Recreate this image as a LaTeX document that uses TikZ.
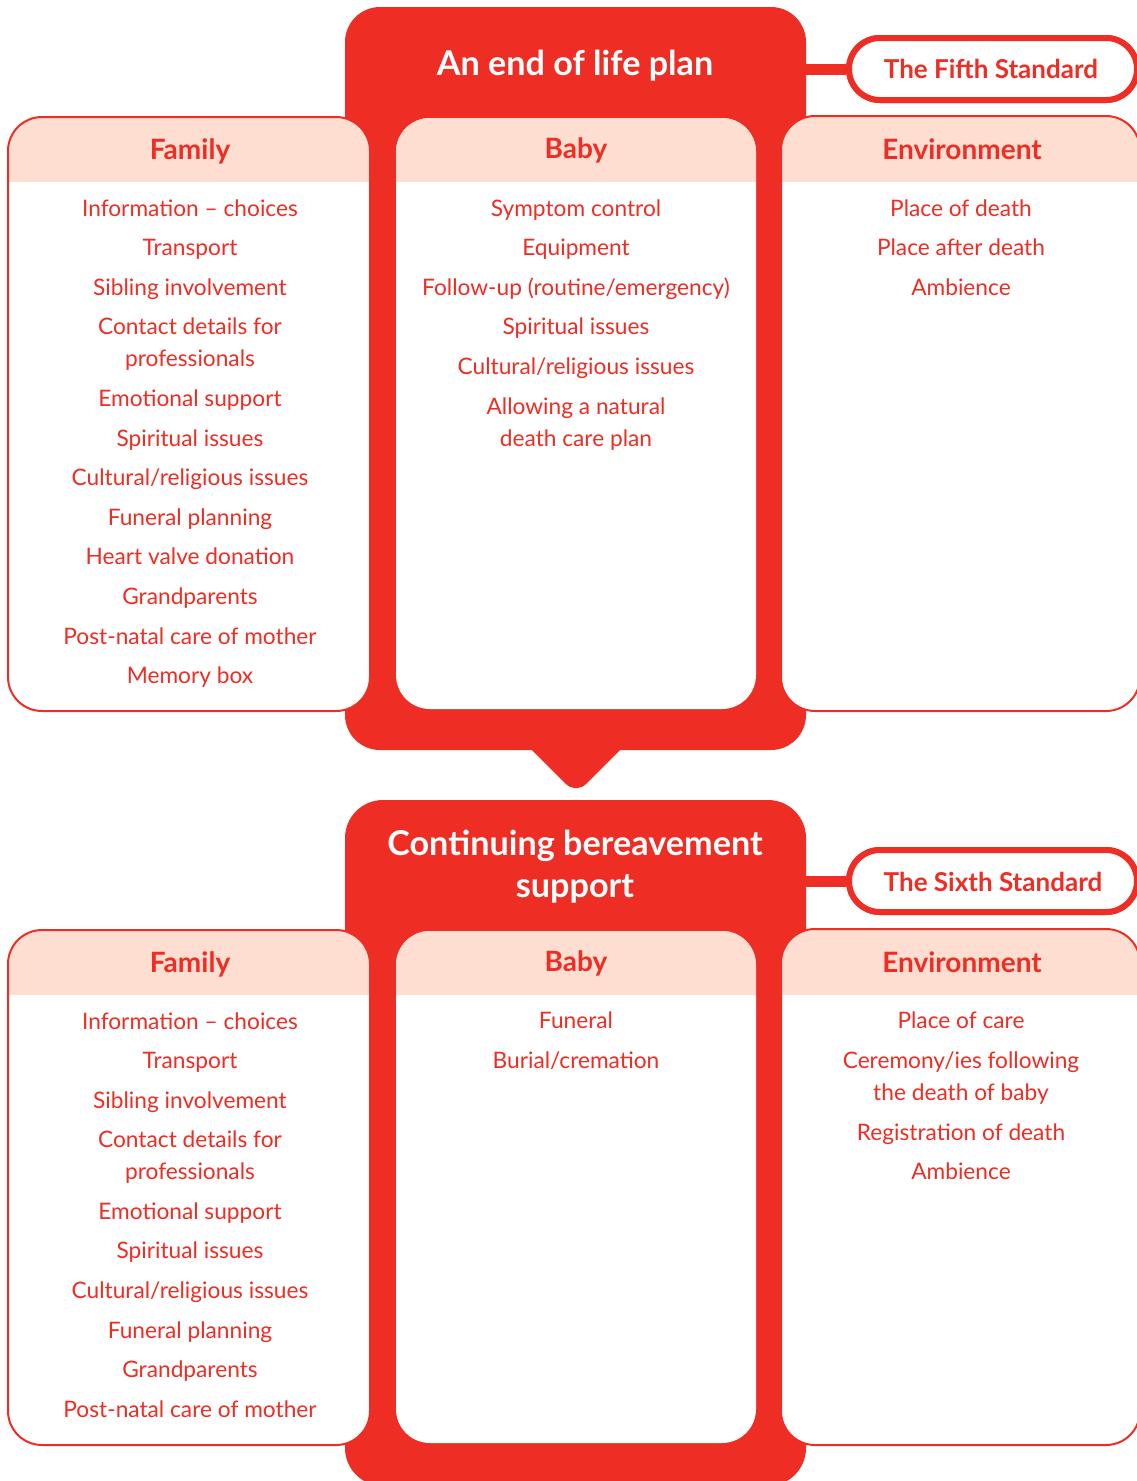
\documentclass[tikz,border=0pt]{standalone}
\usepackage{fontspec}
\setmainfont{Lato}
\usetikzlibrary{shapes.misc}
\definecolor{ered}{RGB}{238,45,36}
\definecolor{peach}{RGB}{253,222,208}
\newcommand{\mycard}[6]{%
 \fill[white, rounded corners=34] (#1,#2) rectangle (#3,#4);
 \begin{scope}
 \clip[rounded corners=34] (#1,#2) rectangle (#3,#4);
 \fill[peach] (#1,#2) rectangle (#3,#5);
 \end{scope}
 \draw[#6, rounded corners=34] (#1,#2) rectangle (#3,#4);
}
\newcommand{\itm}[4]{\node[item] (#1) at (#2,#3) {#4};}
\tikzset{
 item/.style={text=ered, anchor=base, inner sep=0, font=\fontsize{22.7}{26}\selectfont},
 head/.style={text=ered, anchor=base, inner sep=0, font=\bfseries\fontsize{28}{30}\selectfont},
 ttl/.style={text=white, anchor=base, inner sep=0, font=\bfseries\fontsize{34.2}{40}\selectfont},
 pill/.style={draw=ered, line width=6, fill=white, rounded corners=31, minimum width=288, minimum height=62, inner sep=0},
 pilltext/.style={text=ered, anchor=base, inner sep=0, font=\bfseries\fontsize{26}{30}\selectfont},
 cardline/.style={draw=ered, line width=2},
 nocardline/.style={draw=none},
 link/.style={draw=ered, line width=11},
}
\begin{document}
\begin{tikzpicture}[x=1pt, y=-1pt]
\useasboundingbox (0,0) rectangle (1137,1481);
\clip (0,0) rectangle (1137,1481);
% red panels
\fill[ered, rounded corners=35] (345,7) rectangle (806,750);
\fill[ered, rounded corners=38] (345,800) rectangle (806,1486);
\fill[ered] (530,748) [rounded corners=14] -- (576,794) [sharp corners] -- (622,748) -- cycle;
% standards
\coordinate (p1) at (800,69);
\coordinate (p2) at (800,881);
\node[pill] (fifth) at (993,69) {};
\node[pill] (sixth) at (993,881) {};
\draw[link] (p1) -- (fifth.west);
\draw[link] (p2) -- (sixth.west);
\node[pill, draw=ered] at (fifth) {};
\node[pill, draw=ered] at (sixth) {};
\node[pilltext] (t5) at (991,78) {The Fifth Standard};
\node[pilltext] (t6) at (993,891) {The Sixth Standard};
% titles
\node[ttl] (tt1) at (575,75) {An end of life plan};
\node[ttl] (tt2a) at (575,855) {Continuing bereavement};
\node[ttl] (tt2b) at (575,897) {support};
% top cards
\mycard{8}{117}{370}{711}{182}{cardline}
\mycard{396}{118}{756}{709}{182}{nocardline}
\mycard{781}{116}{1140}{711}{182}{cardline}
% bottom cards
\mycard{8}{930}{370}{1445}{995}{cardline}
\mycard{396}{931}{756}{1443}{995}{nocardline}
\mycard{781}{929}{1140}{1445}{995}{cardline}
% headers
\node[head] (h1) at (190,159) {Family};
\node[head] (h2) at (576,158) {Baby};
\node[head] (h3) at (962,159) {Environment};
\node[head] (h4) at (190,972) {Family};
\node[head] (h5) at (576,971) {Baby};
\node[head] (h6) at (962,972) {Environment};
% top family
\itm{fa1}{190}{216}{Information – choices}
\itm{fa2}{190}{255}{Transport}
\itm{fa3}{190}{295}{Sibling involvement}
\itm{fa4}{190}{334}{Contact details for}
\itm{fa5}{190}{366}{professionals}
\itm{fa6}{190}{406}{Emotional support}
\itm{fa7}{190}{446}{Spiritual issues}
\itm{fa8}{190}{485}{Cultural/religious issues}
\itm{fa9}{190}{525}{Funeral planning}
\itm{fa10}{190}{564}{Heart valve donation}
\itm{fa11}{190}{604}{Grandparents}
\itm{fa12}{190}{644}{Post-natal care of mother}
\itm{fa13}{190}{683}{Memory box}
% top baby
\itm{ba1}{576}{216}{Symptom control}
\itm{ba2}{576}{255}{Equipment}
\itm{ba3}{576}{295}{Follow-up (routine/emergency)}
\itm{ba4}{576}{334}{Spiritual issues}
\itm{ba5}{576}{374}{Cultural/religious issues}
\itm{ba6}{576}{414}{Allowing a natural}
\itm{ba7}{576}{446}{death care plan}
% top environment
\itm{ea1}{961}{216}{Place of death}
\itm{ea2}{961}{255}{Place after death}
\itm{ea3}{961}{295}{Ambience}
% bottom family
\itm{fb1}{190}{1029}{Information – choices}
\itm{fb2}{190}{1068}{Transport}
\itm{fb3}{190}{1108}{Sibling involvement}
\itm{fb4}{190}{1147}{Contact details for}
\itm{fb5}{190}{1179}{professionals}
\itm{fb6}{190}{1219}{Emotional support}
\itm{fb7}{190}{1258}{Spiritual issues}
\itm{fb8}{190}{1298}{Cultural/religious issues}
\itm{fb9}{190}{1338}{Funeral planning}
\itm{fb10}{190}{1377}{Grandparents}
\itm{fb11}{190}{1417}{Post-natal care of mother}
% bottom baby
\itm{bb1}{576}{1028}{Funeral}
\itm{bb2}{576}{1068}{Burial/cremation}
% bottom environment
\itm{eb1}{961}{1028}{Place of care}
\itm{eb2}{961}{1068}{Ceremony/ies following}
\itm{eb3}{961}{1100}{the death of baby}
\itm{eb4}{961}{1140}{Registration of death}
\itm{eb5}{961}{1179}{Ambience}
\end{tikzpicture}
\end{document}
